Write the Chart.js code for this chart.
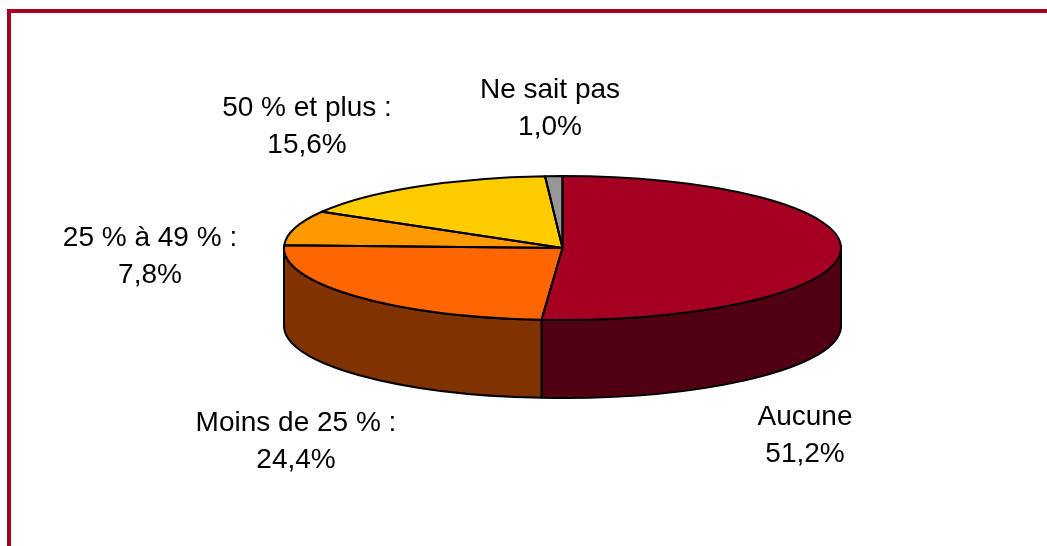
<!DOCTYPE html>
<html>
<head>
<meta charset="utf-8">
<script src="https://cdn.jsdelivr.net/npm/chart.js@4"></script>
<style>
html,body{margin:0;padding:0;background:#fff;overflow:hidden}
#wrap{position:relative;width:1047px;height:546px}
#frame{position:absolute;left:7px;top:9px;right:0;bottom:0;border-left:4px solid #A50021;border-top:4px solid #A50021}
canvas{position:absolute;left:0;top:0}
</style>
</head>
<body>
<div id="wrap"><div id="frame"></div><canvas id="c" width="1047" height="546"></canvas></div>
<script>
const categories = ['Aucune', 'Moins de 25 % :', '25 % à 49 % :', '50 % et plus :', 'Ne sait pas'];
const values = [51.2, 24.4, 7.8, 15.6, 1.0];
const topColors = ['#A50021', '#FF6600', '#FF9900', '#FFCC00', '#969696'];
const wallColors = ['#500010', '#803300', '#804C00', '#806600', '#4B4B4B'];
const labelAnchors = [[805, 425], [296, 431], [150, 246], [307, 116], [550, 98]];

const TILT = 72 / 278.5, DEPTH = 78, LINE_H = 37;
const FONT = '28px "Liberation Sans", Arial, sans-serif';

const pie3d = {
  id: 'pie3d',
  beforeDatasetsDraw(chart) {
    const ctx = chart.ctx, arcs = chart.getDatasetMeta(0).data;
    const a0 = arcs[0];
    // visible side walls: the part of each slice on the front half
    arcs.forEach((arc, i) => {
      const s = Math.max(arc.startAngle, 0), e = Math.min(arc.endAngle, Math.PI);
      if (e <= s) return;
      const rx = arc.outerRadius, ry = rx * TILT;
      ctx.beginPath();
      ctx.ellipse(arc.x, arc.y, rx, ry, 0, s, e, false);
      ctx.ellipse(arc.x, arc.y + DEPTH, rx, ry, 0, e, s, true);
      ctx.closePath();
      ctx.fillStyle = wallColors[i];
      ctx.fill();
      ctx.lineWidth = 2;
      ctx.strokeStyle = '#000';
      ctx.lineJoin = 'round';
      ctx.stroke();
    });
    ctx.save();
    ctx.translate(a0.x, a0.y);
    ctx.scale(1, TILT);
    ctx.translate(-a0.x, -a0.y);
  },
  afterDatasetsDraw(chart) {
    const ctx = chart.ctx, arcs = chart.getDatasetMeta(0).data;
    ctx.restore();
    ctx.save();
    ctx.lineWidth = 2;
    ctx.strokeStyle = '#000';
    ctx.lineJoin = 'round';
    arcs.forEach(arc => {
      const rx = arc.outerRadius, ry = rx * TILT;
      ctx.beginPath();
      ctx.moveTo(arc.x, arc.y);
      ctx.ellipse(arc.x, arc.y, rx, ry, 0, arc.startAngle, arc.endAngle, false);
      ctx.closePath();
      ctx.stroke();
    });
    ctx.font = FONT;
    ctx.fillStyle = '#000';
    ctx.textAlign = 'center';
    ctx.textBaseline = 'alphabetic';
    categories.forEach((name, i) => {
      const [x, y] = labelAnchors[i];
      ctx.fillText(name, x, y);
      ctx.fillText(values[i].toFixed(1).replace('.', ',') + '%', x, y + LINE_H);
    });
    ctx.restore();
  }
};

new Chart(document.getElementById('c'), {
  type: 'pie',
  data: {
    labels: categories,
    datasets: [{
      data: values,
      backgroundColor: topColors,
      borderWidth: 0,
      clip: false,
      radius: 278.5
    }]
  },
  options: {
    responsive: false,
    animation: false,
    events: [],
    layout: { padding: { left: 78, right: 0, top: 0, bottom: 50 } },
    plugins: { legend: { display: false }, tooltip: { enabled: false } }
  },
  plugins: [pie3d]
});
</script>
</body>
</html>
